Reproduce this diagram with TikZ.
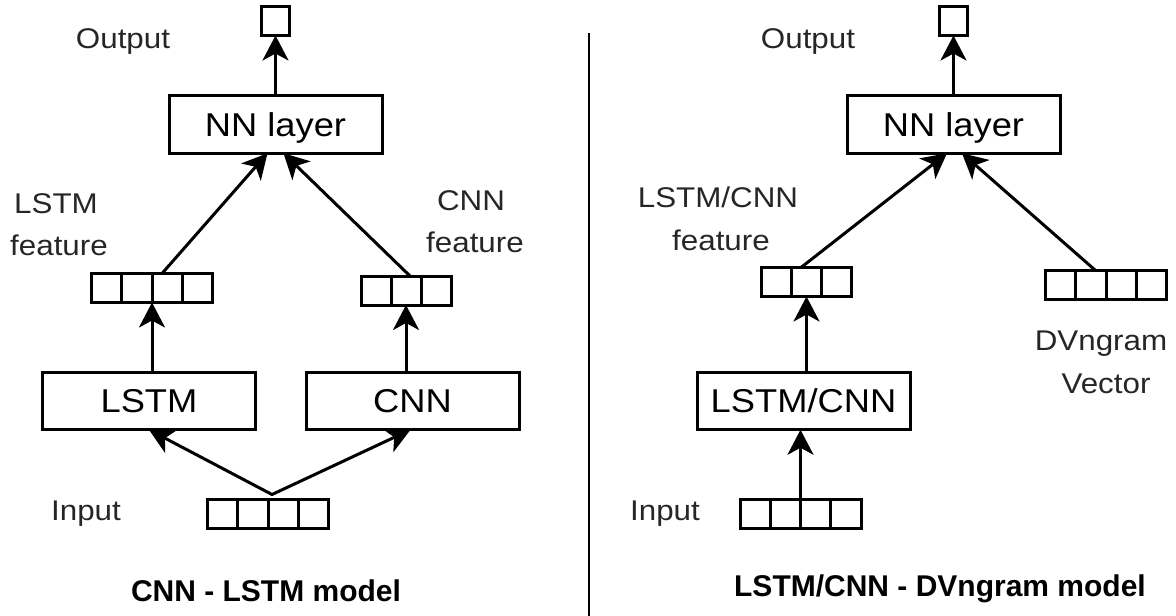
\documentclass[tikz,border=0pt]{standalone}
\usepackage{fontspec}
\setmainfont{Liberation Sans}[FakeStretch=1.1]
\newfontfamily\ttlfont{Liberation Sans}
\usetikzlibrary{arrows.meta,calc}
\tikzset{
  lw/.style={line width=3pt},
  block/.style={draw, lw, inner sep=0pt, outer sep=0pt, minimum width=213pt, minimum height=57.5pt,
    font=\fontsize{33}{36}\selectfont, text height=23.6pt, text depth=0pt},
  vecbox/.style={draw, lw, inner sep=0pt, outer sep=0pt, minimum height=29pt},
  outbox/.style={draw, lw, inner sep=0pt, outer sep=0pt, minimum width=28pt, minimum height=29pt},
  lab/.style={anchor=base, inner sep=0pt, font=\fontsize{28.5}{34}\selectfont, text=black!85},
  ttl/.style={anchor=base, inner sep=0pt, font=\ttlfont\bfseries\fontsize{30}{36}\selectfont},
  tipstyle/.tip={Stealth[length=25pt,width=26pt,inset=7pt]},
  arr/.style={lw, -tipstyle},
}
\newcommand{\vdivs}[2]{\foreach \f in {#2}{\draw[lw] ($(#1.north west)!\f!(#1.north east)$) -- ($(#1.south west)!\f!(#1.south east)$);}}
\begin{document}
\begin{tikzpicture}[x=1pt,y=-1pt]
\useasboundingbox (0,0) rectangle (1176,616);

% ---------- left panel ----------
\node[outbox] (o1) at (275.5,21) {};
\node[block] (nn1) at (275.5,124.5) {NN layer};
\node[vecbox, minimum width=121pt] (lv) at (152,288) {};
\vdivs{lv}{0.25,0.5,0.75}
\node[vecbox, minimum width=90pt] (cv) at (406,290.5) {};
\vdivs{cv}{0.3333,0.6667}
\node[block] (lstm) at (149,401) {LSTM};
\node[block] (cnn) at (412.5,401) {CNN};
\node[vecbox, minimum width=121pt] (in1) at (268,514) {};
\vdivs{in1}{0.25,0.5,0.75}

\draw[arr] (nn1.north) -- (o1.south);
\draw[arr] ([xshift=10pt]lv.north) -- ([xshift=-8pt]nn1.south);
\draw[arr] ([xshift=4pt]cv.north) -- ([xshift=8pt]nn1.south);
\draw[arr] (lstm.north -| lv.south) -- (lv.south);
\draw[arr] (cnn.north -| cv.south) -- (cv.south);
\coordinate (a1) at ([xshift=4pt,yshift=5pt]in1.north);
\draw[lw, tipstyle-tipstyle] (lstm.south) -- (a1) -- ([xshift=-2pt]cnn.south);

\node[lab] (lo1) at (123,48) {Output};
\node[lab] (ll1) at (56,213) {LSTM};
\node[lab] (ll2) at (59,255) {feature};
\node[lab] (cl1) at (471,210) {CNN};
\node[lab] (cl2) at (475,252) {feature};
\node[lab] (li1) at (86,520) {Input};
\node[ttl] (t1) at (266,601) {CNN - LSTM model};

% ---------- divider ----------
\coordinate (d1) at (589,33);
\coordinate (d2) at (589,616);
\draw[line width=2.6pt] (d1) -- (d2);

% ---------- right panel ----------
\node[outbox] (o2) at (953.5,21) {};
\node[block] (nn2) at (953.5,124.5) {NN layer};
\node[vecbox, minimum width=90pt] (lcv) at (806.5,282) {};
\vdivs{lcv}{0.3333,0.6667}
\node[vecbox, minimum width=121pt] (dv) at (1106,284.5) {};
\vdivs{dv}{0.25,0.5,0.75}
\node[block] (lc) at (803.5,401) {LSTM/CNN};
\node[vecbox, minimum width=121pt] (in2) at (800.5,514) {};
\vdivs{in2}{0.25,0.5,0.75}

\draw[arr] (nn2.north) -- (o2.south);
\draw[arr] ([xshift=-5.5pt]lcv.north) -- ([xshift=-6.5pt]nn2.south);
\draw[arr] ([xshift=-11pt]dv.north) -- ([xshift=8.5pt]nn2.south);
\draw[arr] (in2.north) -- (in2.north |- lc.south);
\draw[arr] (lc.north -| lcv.south) -- (lcv.south);

\node[lab] (lo2) at (808,48) {Output};
\node[lab] (lcl1) at (718,207) {LSTM/CNN};
\node[lab] (lcl2) at (721,250) {feature};
\node[lab] (dl1) at (1101,350) {DVngram};
\node[lab] (dl2) at (1106,393) {Vector};
\node[lab] (li2) at (665,520) {Input};
\node[ttl] (t2) at (940,596) {LSTM/CNN - DVngram model};
\end{tikzpicture}
\end{document}
